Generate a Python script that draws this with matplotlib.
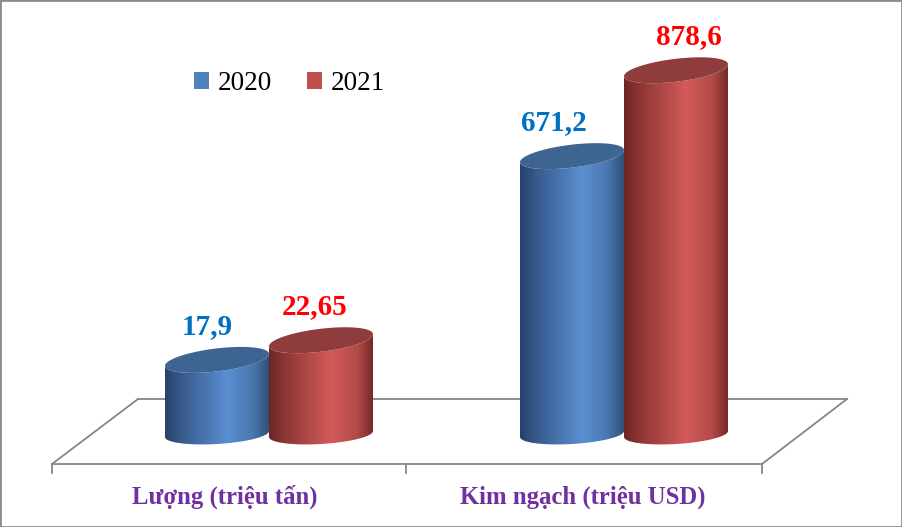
import numpy as np
import matplotlib
matplotlib.use("Agg")
import matplotlib.pyplot as plt
from matplotlib.patches import Polygon, Rectangle
from matplotlib.colors import LinearSegmentedColormap

# số liệu
categories = ["Lượng (triệu tấn)", "Kim ngạch (triệu USD)"]
years = ["2020", "2021"]
values_2020 = [17.9, 671.2]
values_2021 = [22.65, 878.6]
chart_scale = [10, 1]  # lượng được vẽ x10 trên cùng một trục

W, H = 902, 527
GROUP_X = 269      # tâm nhóm đầu tiên (px)
GROUP_STEP = 355   # khoảng cách giữa 2 nhóm (px)
BASE_Y = 434       # đáy trụ (px)
PX_PER_VAL = 0.414


def dx(px):
    return px / GROUP_STEP


def dy(px):
    return px / PX_PER_VAL


def fx(px):
    return (px - GROUP_X) / GROUP_STEP


def fy(py):
    return (BASE_Y - py) / PX_PER_VAL


fig = plt.figure(figsize=(W / 100, H / 100), dpi=100)
ax = fig.add_axes([0, 0, 1, 1])
ax.set_xlim(fx(0), fx(W))
ax.set_ylim(fy(H), fy(0))
ax.set_autoscale_on(False)
ax.axis("off")

# sàn 3D
floor_c = "#868686"
ax.plot([fx(138), fx(847)], [fy(399), fy(399)], color=floor_c, lw=1.3, zorder=1)
ax.plot([fx(52), fx(762)], [fy(464), fy(464)], color=floor_c, lw=1.3, zorder=1)
ax.plot([fx(52), fx(138)], [fy(464), fy(399)], color=floor_c, lw=1.3, zorder=1)
ax.plot([fx(762), fx(847)], [fy(464), fy(399)], color=floor_c, lw=1.3, zorder=1)
for tx in [52, 406, 762]:
    ax.plot([fx(tx), fx(tx)], [fy(464), fy(473)], color=floor_c, lw=1.3, zorder=1)

blue_cmap = LinearSegmentedColormap.from_list("b", [
    (0, "#26426a"), (0.15, "#36598a"), (0.6, "#5a8fd2"), (0.85, "#4a76ad"), (1, "#30507a")])
red_cmap = LinearSegmentedColormap.from_list("r", [
    (0, "#6e2624"), (0.15, "#8c3634"), (0.6, "#d25b59"), (0.85, "#b24a48"), (1, "#742b29")])


def cylinder(cx, top, cmap, top_color, z):
    w = dx(52)
    eh = dy(11.5)
    sh_top = dy(6)
    sh_bot = dy(3)
    t = np.linspace(np.pi, 2 * np.pi, 80)
    bx = cx + w * np.cos(t)
    bot = dy(10) * np.sin(t) + sh_bot * np.cos(t)
    topf = top + eh * np.sin(t) + sh_top * np.cos(t)
    body = np.vstack([np.c_[bx, bot], np.c_[bx[::-1], topf[::-1]]])
    patch = Polygon(body, closed=True, fc="none", ec="none", zorder=z)
    ax.add_patch(patch)
    im = ax.imshow(np.linspace(0, 1, 256)[None, :], cmap=cmap,
                   extent=[cx - w, cx + w, -dy(14), top + eh + sh_top],
                   aspect="auto", origin="lower", zorder=z, interpolation="bilinear")
    im.set_clip_path(patch)
    ta = np.linspace(0, 2 * np.pi, 160)
    face = np.c_[cx + w * np.cos(ta), top + eh * np.sin(ta) + sh_top * np.cos(ta)]
    ax.add_patch(Polygon(face, closed=True, fc=top_color, ec="none", zorder=z + 0.1))


series = [values_2020, values_2021]
cmaps = [blue_cmap, red_cmap]
top_colors = ["#3e6592", "#8f3d3c"]
label_colors = ["#0070c0", "#ff0000"]
label_dx = [[-10, -18], [-6, 13]]

for j, vals in enumerate(series):
    side = -1 if j == 0 else 1
    for i, v in enumerate(vals):
        cx = i + side * dx(52)
        top = v * chart_scale[i]
        cylinder(cx, top, cmaps[j], top_colors[j], 3 + j)
        ax.text(cx + dx(label_dx[j][i]), top + dy(26), str(v).replace(".", ","),
                ha="center", va="baseline", fontsize=21, fontweight="bold",
                family="Liberation Serif", color=label_colors[j], zorder=10)

for i, cat in enumerate(categories):
    ax.text(fx([225, 583][i]), fy(497), cat, ha="center", va="center",
            fontsize=17.8, fontweight="bold", family="Liberation Serif", color="#7030a0")

handles = [Rectangle((0, 0), 1, 1, fc="#4f81bd"), Rectangle((0, 0), 1, 1, fc="#c0504d")]
fig.legend(handles, years, loc="upper left", bbox_to_anchor=(194 / W, 1 - 71 / H), ncol=2,
           frameon=False, prop={"family": "Liberation Serif", "size": 19.5},
           handlelength=0.57, handleheight=0.57, handletextpad=0.3, columnspacing=1.3,
           borderpad=0, borderaxespad=0)

fig.add_artist(Rectangle((0, 0), 1, 1, transform=fig.transFigure, fill=False,
                         ec="#8c8c8c", lw=2))

fig.savefig("out.png", dpi=100)
